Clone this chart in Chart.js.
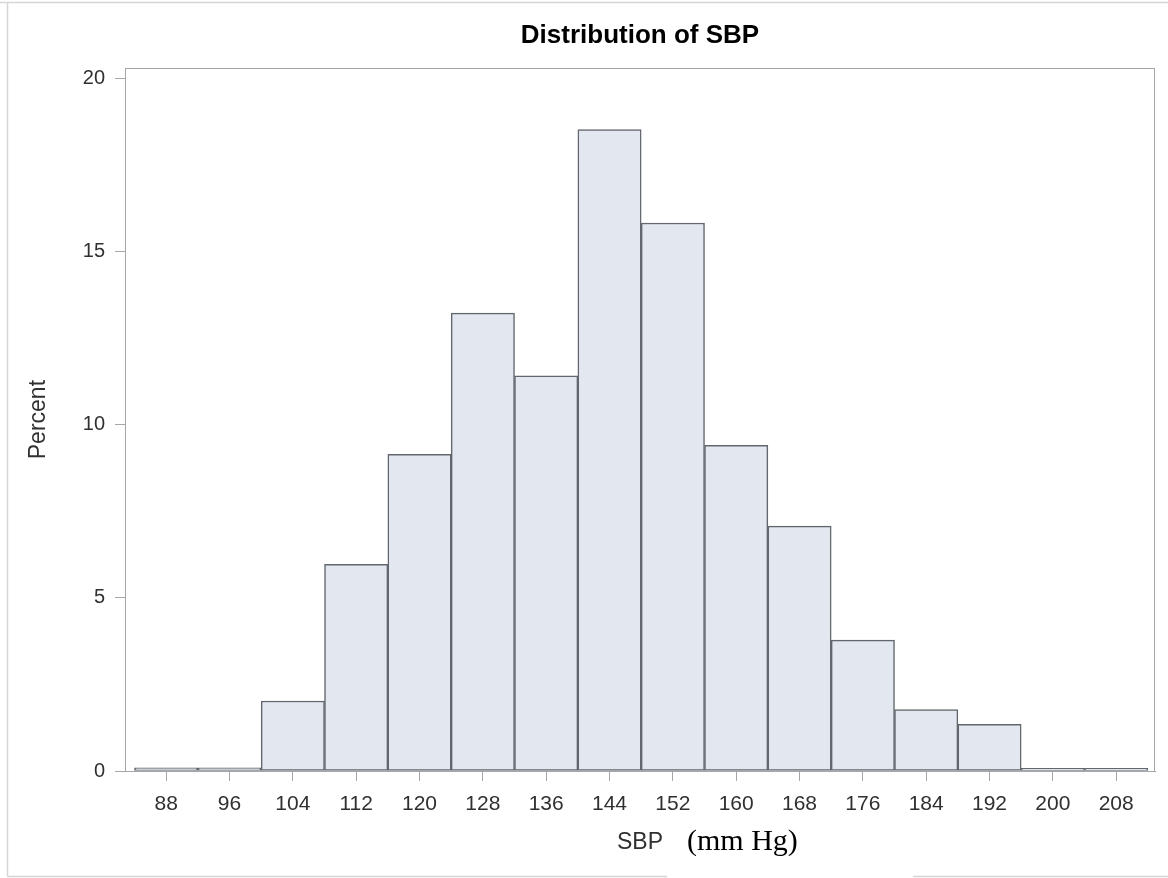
<!DOCTYPE html>
<html>
<head>
<meta charset="utf-8">
<title>Distribution of SBP</title>
<script src="https://cdn.jsdelivr.net/npm/chart.js@4/dist/chart.umd.min.js"></script>
<style>
  html, body { margin: 0; padding: 0; background: #ffffff; }
  #wrap { position: relative; width: 1168px; height: 878px; }
</style>
</head>
<body>
<div id="wrap"><canvas id="sbpChart" width="1168" height="878"></canvas></div>
<script>
// histogram bins (midpoints, mm Hg) and percent of subjects per bin
const binMids = [88, 96, 104, 112, 120, 128, 136, 144, 152, 160, 168, 176, 184, 192, 200, 208];
const percents = [0.09, 0.09, 2.02, 5.97, 9.14, 13.22, 11.41, 18.52, 15.82, 9.40, 7.07, 3.78, 1.77, 1.35, 0.08, 0.08];
const yTicks = [0, 5, 10, 15, 20];

const AXIS_GREY = '#a4a7aa';
const TEXT_DARK = '#303030';
const FONT = '"Liberation Sans", Arial, sans-serif';

// box around the plot area plus the outer graph border
const framePlugin = {
    id: 'frame',
    afterDatasetsDraw(chart) {
        const { ctx, chartArea: a } = chart;
        ctx.save();
        ctx.strokeStyle = AXIS_GREY;
        ctx.lineWidth = 1;
        ctx.strokeRect(Math.round(a.left) + 0.5, Math.round(a.top) + 0.5,
            Math.round(a.right - a.left) - 1, Math.round(a.bottom - a.top));
        ctx.restore();
    },
    afterDraw(chart) {
        const { ctx, width, height } = chart;
        ctx.save();
        ctx.strokeStyle = '#d6d6d6';
        ctx.lineWidth = 1.5;
        ctx.beginPath();
        ctx.moveTo(0, 2.5); ctx.lineTo(width, 2.5);
        ctx.moveTo(7.5, 2.5); ctx.lineTo(7.5, height - 1.5);
        ctx.moveTo(7.5, height - 1.5); ctx.lineTo(667, height - 1.5);
        ctx.moveTo(913, height - 1.5); ctx.lineTo(width, height - 1.5);
        ctx.stroke();

        // units note next to the axis label
        ctx.fillStyle = '#000000';
        ctx.font = '30px "Liberation Serif", "Times New Roman", serif';
        ctx.textAlign = 'left';
        ctx.textBaseline = 'middle';
        ctx.fillText('(mm Hg)', 687, 842);
        ctx.restore();
    }
};

const ctx = document.getElementById('sbpChart').getContext('2d');
new Chart(ctx, {
    type: 'bar',
    data: {
        datasets: [{
            label: 'Percent',
            data: binMids.map((m, i) => ({ x: m, y: percents[i] })),
            backgroundColor: '#e3e7f0',
            borderColor: '#62666d',
            borderWidth: 1.5,
            borderSkipped: false,
            barPercentage: 1,
            categoryPercentage: 1
        }]
    },
    options: {
        responsive: false,
        animation: false,
        layout: { padding: { left: 0, right: 13, top: 0, bottom: 0 } },
        plugins: {
            legend: { display: false },
            tooltip: { enabled: false },
            title: {
                display: true,
                text: 'Distribution of SBP',
                fullSize: false,
                color: '#000000',
                font: { family: FONT, size: 26, weight: 'bold' },
                padding: { top: 20, bottom: 17 }
            }
        },
        scales: {
            x: {
                type: 'linear',
                min: 82.8,
                max: 212.9,
                offset: false,
                grid: {
                    display: true,
                    offset: false,
                    drawOnChartArea: false,
                    tickLength: 10,
                    color: AXIS_GREY
                },
                border: { display: true, color: AXIS_GREY },
                ticks: {
                    stepSize: 8,
                    includeBounds: false,
                    autoSkip: false,
                    maxRotation: 0,
                    padding: 11,
                    color: TEXT_DARK,
                    font: { family: FONT, size: 21 }
                },
                title: {
                    display: true,
                    text: 'SBP',
                    color: TEXT_DARK,
                    font: { family: FONT, size: 23 },
                    padding: { top: 0, bottom: 22 }
                },
                afterFit(scale) { scale.height = 107; }
            },
            y: {
                min: 0,
                max: 20.29,
                grid: {
                    display: true,
                    drawOnChartArea: false,
                    tickLength: 10,
                    color: AXIS_GREY
                },
                border: { display: true, color: AXIS_GREY },
                afterBuildTicks(scale) {
                    scale.ticks = yTicks.map(v => ({ value: v }));
                },
                ticks: {
                    padding: 10,
                    color: TEXT_DARK,
                    font: { family: FONT, size: 20 }
                },
                title: {
                    display: true,
                    text: 'Percent',
                    color: TEXT_DARK,
                    font: { family: FONT, size: 23 },
                    padding: { top: 25, bottom: 0 }
                },
                afterFit(scale) { scale.width = 125; }
            }
        }
    },
    plugins: [framePlugin]
});
</script>
</body>
</html>
